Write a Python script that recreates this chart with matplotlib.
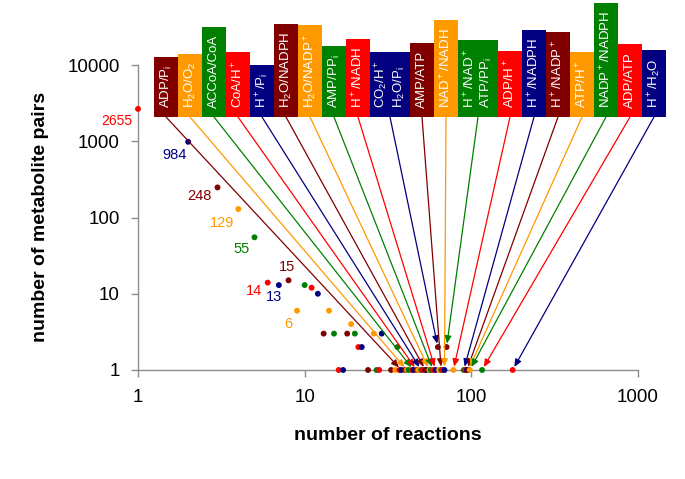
import matplotlib
matplotlib.use('Agg')
import matplotlib.pyplot as plt
from matplotlib.patches import Rectangle
from matplotlib.ticker import FixedLocator, NullLocator

plt.rcParams['font.family'] = ['Liberation Sans', 'DejaVu Sans']
plt.rcParams['mathtext.fontset'] = 'custom'
plt.rcParams['mathtext.rm'] = 'Liberation Sans'
plt.rcParams['mathtext.default'] = 'regular'

# number of reactions in which a metabolite pair takes part, and how many pairs do so
n_reactions = [1, 2, 3, 4, 5, 6, 7, 8, 9, 10, 11, 12, 13, 14, 15, 16, 17, 18, 19, 20, 21, 22,
               24, 26, 27, 28, 29, 33, 35, 36, 37, 38, 40, 41, 42, 44, 45, 47, 48, 50, 51,
               53, 54, 56, 57, 59, 61, 63, 64, 66, 67, 69, 71, 78, 90, 92, 94, 96, 98, 116, 177]
n_pairs = [2655, 984, 248, 129, 55, 14, 13, 15, 6, 13, 12, 10, 3, 6, 3, 1, 1, 3, 4, 3, 2, 2,
           1, 3, 1, 1, 3, 1, 1, 2, 1, 1, 1, 1, 1, 1, 1, 1, 1, 1, 1,
           1, 1, 1, 1, 1, 1, 2, 1, 1, 1, 1, 2, 1, 1, 1, 1, 1, 1, 1, 1]

# most frequent pairs and the point each one belongs to
pair_labels = ['ADP/P$_i$', 'H$_2$O/O$_2$', 'ACCoA/CoA', 'CoA/H$^+$', 'H$^+$/P$_i$',
               'H$_2$O/NADPH', 'H$_2$O/NADP$^+$', 'AMP/PP$_i$', 'H$^+$/NADH',
               'CO$_2$/H$^+$\nH$_2$O/P$_i$', 'AMP/ATP', 'NAD$^+$/NADH',
               'H$^+$/NAD$^+$\nATP/PP$_i$', 'ADP/H$^+$', 'H$^+$/NADPH', 'H$^+$/NADP$^+$',
               'ATP/H$^+$', 'NADP$^+$/NADPH', 'ADP/ATP', 'H$^+$/H$_2$O']
target_reactions = [38, 41, 45, 47, 50, 53, 56, 59, 61, 63, 66, 69, 71, 78, 90, 94, 96, 98, 116, 177]
target_pairs = [1, 1, 1, 1, 1, 1, 1, 1, 1, 2, 1, 1, 2, 1, 1, 1, 1, 1, 1, 1]

point_cycle = ['#FF0000', '#000080', '#800000', '#FF9900', '#008000']
box_cycle = ['#800000', '#FF9900', '#008000', '#FF0000', '#000080']

W, H = 685, 479
fig = plt.figure(figsize=(W / 100, H / 100), dpi=100)
ax = fig.add_axes([138 / W, 109 / H, 500 / W, 305 / H])

pt_colors = [point_cycle[i % 5] for i in range(len(n_reactions))]
ax.scatter(n_reactions, n_pairs, c=pt_colors, s=18, linewidths=0, zorder=3, clip_on=False)

# value labels for the first points
offsets = [(-6, -5, 'right', 'top'), (-1, -6, 'right', 'top'), (-6, -2, 'right', 'top'),
           (-4, -7, 'right', 'top'), (-5, -5, 'right', 'top'), (-6, -1, 'right', 'top'),
           (3, -5, 'right', 'top'), (-2, 6, 'center', 'bottom'), (-5, -6, 'right', 'top')]
for i, (dx, dy, ha, va) in enumerate(offsets):
    ax.annotate(str(n_pairs[i]), (n_reactions[i], n_pairs[i]), xytext=(dx, dy),
                textcoords='offset pixels', ha=ha, va=va, color=pt_colors[i],
                fontsize=10.5 if i else 10, annotation_clip=False)

ax.set_xscale('log')
ax.set_yscale('log')
ax.set_xlim(1, 1000)
ax.set_ylim(1, 10000)
ax.xaxis.set_major_locator(FixedLocator([1, 10, 100, 1000]))
ax.yaxis.set_major_locator(FixedLocator([1, 10, 100, 1000, 10000]))
ax.xaxis.set_minor_locator(NullLocator())
ax.yaxis.set_minor_locator(NullLocator())
ax.set_xticklabels(['1', '10', '100', '1000'])
ax.set_yticklabels(['1', '10', '100', '1000', '10000'])
for s in ['top', 'right']:
    ax.spines[s].set_visible(False)
for s in ['left', 'bottom']:
    ax.spines[s].set_color('#8c8c8c')
    ax.spines[s].set_linewidth(1)
ax.tick_params(direction='out', length=5, width=1, color='#8c8c8c', labelsize=13.5)
ax.tick_params(axis='x', pad=9)
ax.tick_params(axis='y', pad=8)

fig.text(388 / W, 1 - 436 / H, 'number of reactions', ha='center', va='center',
         fontsize=14, fontweight='bold')
fig.text(41 / W, 1 - 217 / H, 'number of metabolite pairs', ha='center', va='center',
         rotation=90, fontsize=14, fontweight='bold')

# label boxes along the top, with arrows down to their points
renderer = fig.canvas.get_renderer()
base = H - 117
x0 = 154
for i, lab in enumerate(pair_labels):
    c = box_cycle[i % 5]
    w = 24 if '\n' not in lab else 40
    cx = x0 + w / 2
    t = fig.text(cx / W, (base + 9) / H, lab, rotation=90, ha='center', va='bottom',
                 color='white', fontsize=9.5, multialignment='left', zorder=6)
    ext = t.get_window_extent(renderer=renderer)
    top = ext.y1 + 8
    fig.add_artist(Rectangle((x0 / W, base / H), w / W, (top - base) / H,
                             transform=fig.transFigure, facecolor=c, edgecolor='none', zorder=5))
    ax.annotate('', xy=(target_reactions[i], target_pairs[i]), xycoords='data',
                xytext=(cx / W, base / H), textcoords='figure fraction',
                arrowprops=dict(arrowstyle='-|>,head_length=0.5,head_width=0.22', color=c,
                                lw=0.9, shrinkA=0, shrinkB=2.5, mutation_scale=9),
                annotation_clip=False, zorder=4)
    x0 += w

fig.savefig('out.png', dpi=100)
